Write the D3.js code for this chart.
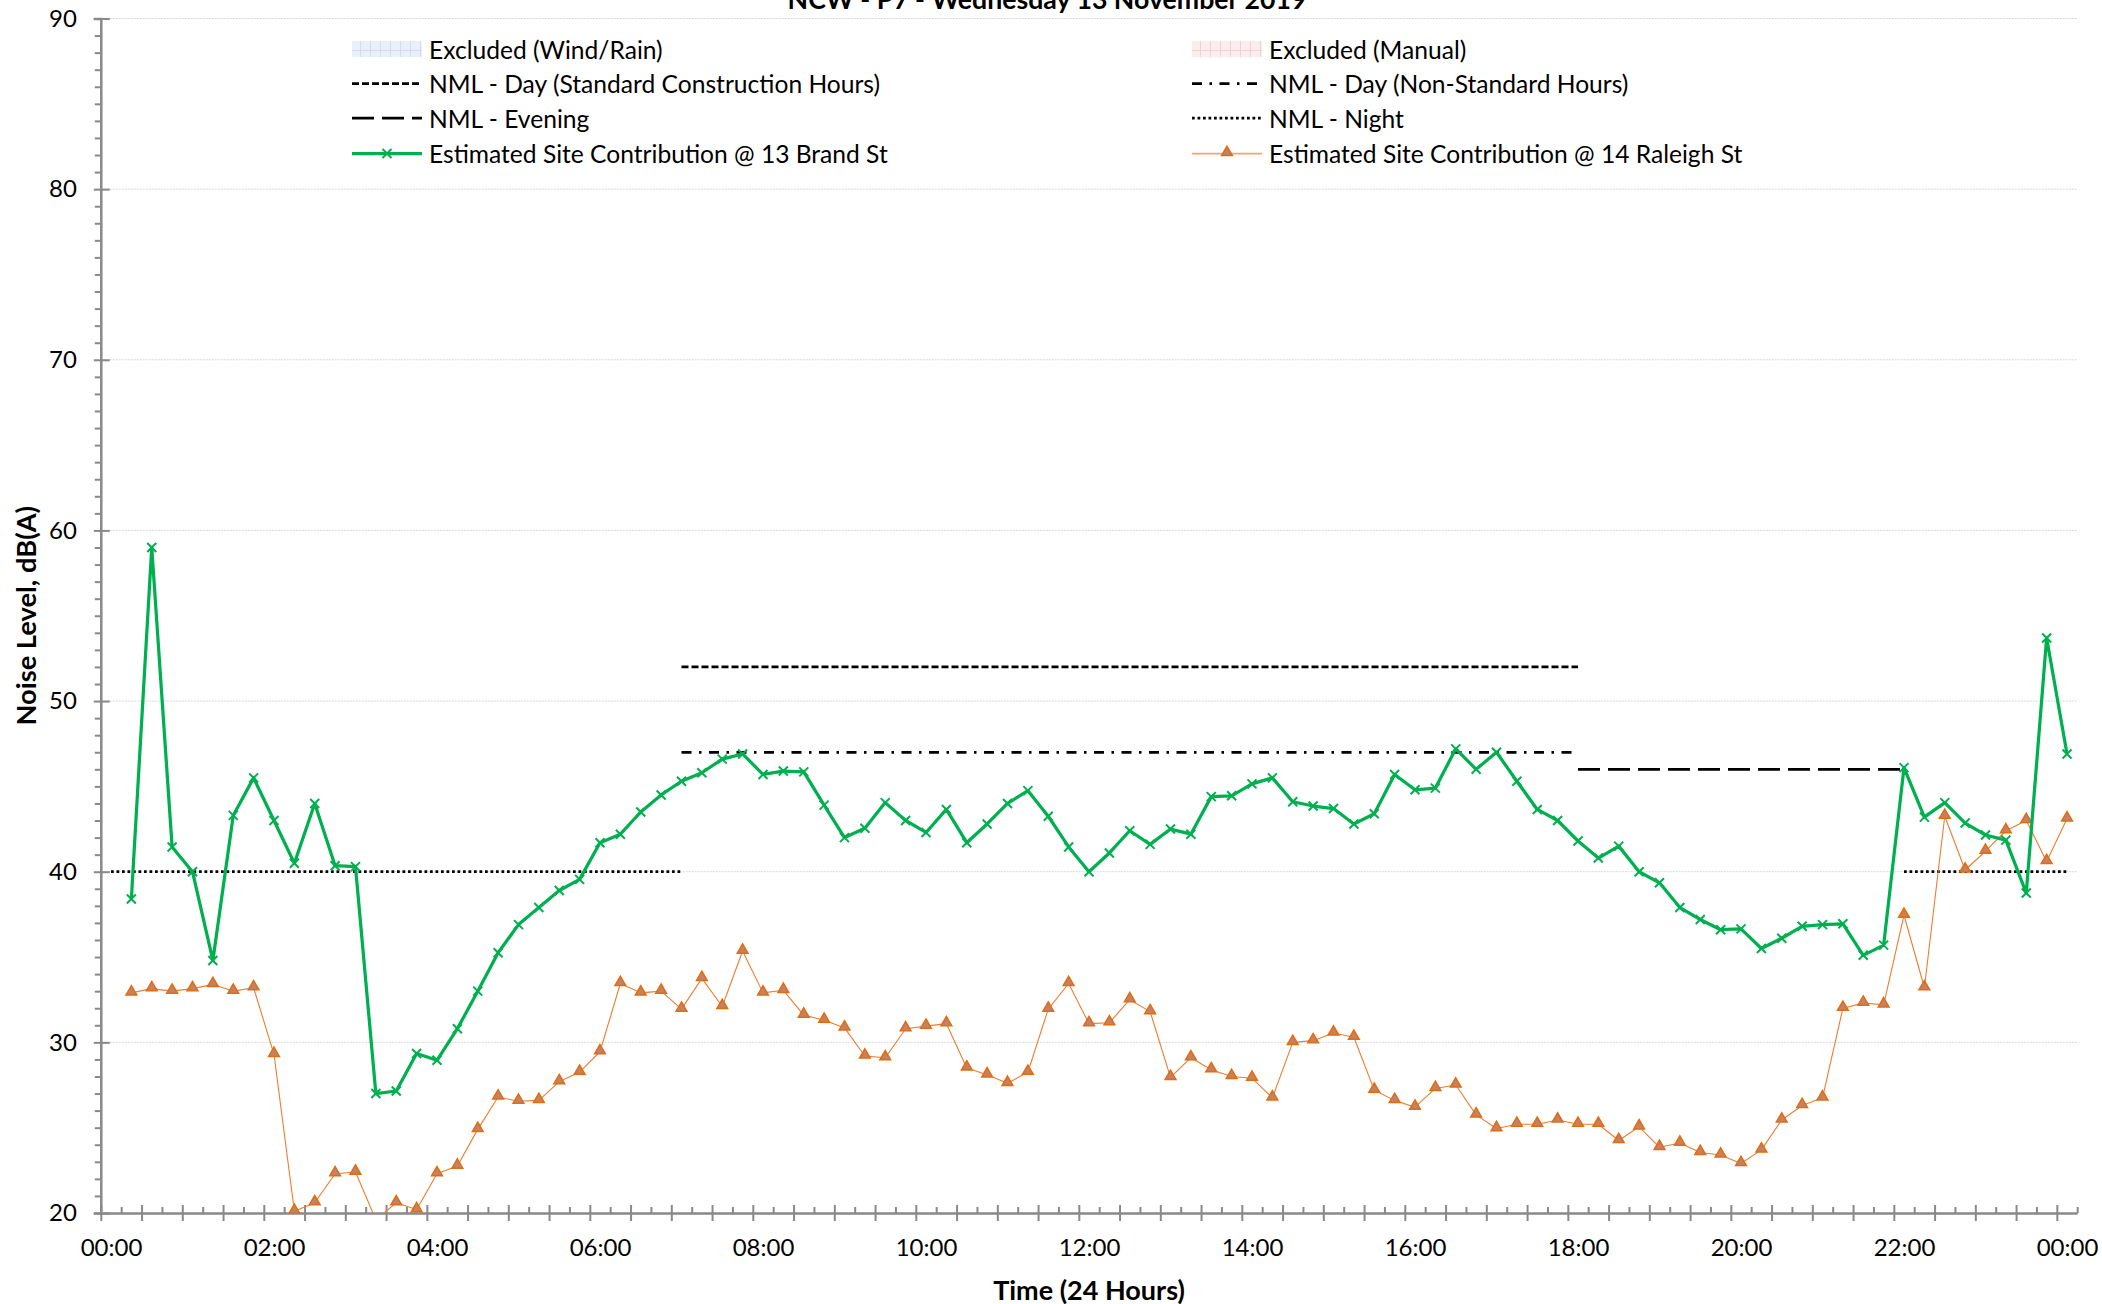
<!DOCTYPE html>
<html><head><meta charset="utf-8">
<script src="https://cdn.jsdelivr.net/npm/d3@7"></script>
<style>
html,body{margin:0;padding:0;background:#fff;overflow:hidden}
svg{display:block;font-family:Lato,"Open Sans",sans-serif}
</style></head><body>
<svg id="chart" width="2102" height="1304"></svg>
<script>
// ---------------- data ----------------
const chartTitle = "NCW - P7 - Wednesday 13 November 2019";
const xAxisTitle = "Time (24 Hours)";
const yAxisTitle = "Noise Level, dB(A)";

const timeCategories = [
 "00:15","00:30","00:45","01:00","01:15","01:30","01:45","02:00",
 "02:15","02:30","02:45","03:00","03:15","03:30","03:45","04:00",
 "04:15","04:30","04:45","05:00","05:15","05:30","05:45","06:00",
 "06:15","06:30","06:45","07:00","07:15","07:30","07:45","08:00",
 "08:15","08:30","08:45","09:00","09:15","09:30","09:45","10:00",
 "10:15","10:30","10:45","11:00","11:15","11:30","11:45","12:00",
 "12:15","12:30","12:45","13:00","13:15","13:30","13:45","14:00",
 "14:15","14:30","14:45","15:00","15:15","15:30","15:45","16:00",
 "16:15","16:30","16:45","17:00","17:15","17:30","17:45","18:00",
 "18:15","18:30","18:45","19:00","19:15","19:30","19:45","20:00",
 "20:15","20:30","20:45","21:00","21:15","21:30","21:45","22:00",
 "22:15","22:30","22:45","23:00","23:15","23:30","23:45","24:00"];

const brandSt = [
 38.4,59.0,41.45,40.0, 34.8,43.3,45.5,43.0, 40.5,44.0,40.35,40.3,
 27.0,27.15,29.35,28.95, 30.8,33.0,35.25,36.9, 37.9,38.9,39.55,41.7,
 42.2,43.5,44.5,45.3, 45.8,46.6,46.9,45.7, 45.9,45.85,43.9,42.0,
 42.55,44.05,43.0,42.3, 43.65,41.7,42.8,44.0, 44.75,43.25,41.45,40.0,
 41.1,42.4,41.6,42.5, 42.2,44.4,44.45,45.15, 45.5,44.1,43.85,43.7,
 42.8,43.4,45.7,44.8, 44.9,47.2,46.0,47.0, 45.3,43.65,43.0,41.8,
 40.8,41.5,40.0,39.35, 37.9,37.2,36.6,36.65, 35.5,36.1,36.8,36.9,
 36.95,35.1,35.7,46.1, 43.2,44.05,42.85,42.15, 41.85,38.75,53.7,46.9];

const raleighSt = [
 32.9,33.15,33.0,33.15, 33.4,33.0,33.2,29.3, 20.1,20.6,22.3,22.4,
 19.6,20.6,20.2,22.3, 22.75,24.9,26.8,26.55, 26.6,27.7,28.25,29.45,
 33.45,32.9,33.0,31.95, 33.75,32.1,35.35,32.9, 33.05,31.6,31.3,30.85,
 29.2,29.1,30.8,30.95, 31.1,28.5,28.1,27.6, 28.25,31.95,33.45,31.1,
 31.15,32.5,31.8,27.95, 29.1,28.4,28.0,27.9, 26.75,30.0,30.1,30.55,
 30.3,27.2,26.6,26.2, 27.3,27.5,25.75,24.95, 25.2,25.2,25.45,25.2,
 25.2,24.25,25.05,23.85, 24.1,23.55,23.4,22.9, 23.7,25.45,26.3,26.75,
 32.0,32.3,32.2,37.45, 33.2,43.25,40.1,41.2, 42.4,43.0,40.6,43.1];

const nmlDayStandard    = [["07:00",52],["18:00",52]];
const nmlDayNonStandard = [["07:00",47],["18:00",47]];
const nmlEvening        = [["18:00",46],["22:00",46]];
const nmlNightMorning   = [["00:00",40],["07:00",40]];
const nmlNightLate      = [["22:00",40],["24:00",40]];

const xTickLabels = ["00:00","02:00","04:00","06:00","08:00","10:00","12:00",
                     "14:00","16:00","18:00","20:00","22:00","00:00"];
const xTickTimes  = ["00:00","02:00","04:00","06:00","08:00","10:00","12:00",
                     "14:00","16:00","18:00","20:00","22:00","24:00"];
const yTickValues = [20,30,40,50,60,70,80,90];

const legendLeft  = ["Excluded (Wind/Rain)","NML - Day (Standard Construction Hours)",
                     "NML - Evening","Estimated Site Contribution @ 13 Brand St"];
const legendRight = ["Excluded (Manual)","NML - Day (Non-Standard Hours)",
                     "NML - Night","Estimated Site Contribution @ 14 Raleigh St"];

// ---------------- helpers ----------------
const toH = s => { const [h,m] = s.split(":").map(Number); return h + m/60; };
const slot = 0.25; // category width (hours)

const svg = d3.select("#chart");
const L = 100.8, R = 2077.2, T = 18.5, B = 1213;
const x = d3.scaleLinear().domain([-slot/2, 24 + slot/2]).range([L, R]);
const y = d3.scaleLinear().domain([20, 90]).range([B, T]);

const AX = "#898989";
const GREEN = "#00B050", ORANGE = "#ED7D31";

// defs
const defs = svg.append("defs");
defs.append("clipPath").attr("id","plotClip")
  .append("rect").attr("x",L).attr("y",T-1).attr("width",R-L).attr("height",B-T+1);
function gridPattern(id, bg, ln){
  const p = defs.append("pattern").attr("id",id).attr("patternUnits","userSpaceOnUse")
    .attr("width",10).attr("height",10);
  p.append("rect").attr("width",10).attr("height",10).attr("fill",bg);
  p.append("path").attr("d","M0,0.5H10M0.5,0V10").attr("stroke",ln).attr("stroke-width",1);
}
gridPattern("patBlue","#eaf0fa","#d3ddf0");
gridPattern("patPink","#fbeded","#f1d2d2");

// gridlines
svg.append("g").selectAll("line").data(yTickValues.filter(v=>v>20)).join("line")
  .attr("x1",L).attr("x2",R).attr("y1",d=>y(d)).attr("y2",d=>y(d))
  .attr("stroke","#d9d9d9").attr("stroke-width",1).attr("stroke-dasharray","2,1");

// ---------------- axes ----------------
const yMinor = d3.range(20, 91, 1).filter(v => v % 10 !== 0);
svg.append("g").attr("transform",`translate(${L},0)`)
  .call(d3.axisLeft(y).tickValues(yMinor).tickSize(6).tickFormat(""))
  .call(g=>{g.select(".domain").remove(); g.selectAll("line").attr("stroke",AX).attr("stroke-width",2);});
svg.append("g").attr("transform",`translate(${L},0)`)
  .call(d3.axisLeft(y).tickValues(yTickValues).tickSize(7).tickPadding(17).tickFormat(d3.format("d")))
  .call(g=>{
    g.select(".domain").attr("stroke",AX).attr("stroke-width",2.5);
    g.selectAll(".tick line").attr("x1",9).attr("x2",-7).attr("stroke",AX).attr("stroke-width",2);
    g.selectAll(".tick text").attr("font-size",24).attr("fill","#000").attr("font-family","Lato");
  });

const xMajor = d3.range(0, 49).map(k => -slot/2 + 2*slot*k);
const xMinorT = d3.range(0, 49).map(k => -slot/2 + slot + 2*slot*k);
svg.append("g").attr("transform",`translate(0,${B})`)
  .call(d3.axisBottom(x).tickValues(xMinorT).tickSize(-6).tickFormat(""))
  .call(g=>{g.select(".domain").remove(); g.selectAll("line").attr("stroke",AX).attr("stroke-width",2);});
svg.append("g").attr("transform",`translate(0,${B})`)
  .call(d3.axisBottom(x).tickValues(xMajor).tickSize(8).tickSizeOuter(0).tickFormat(""))
  .call(g=>{
    g.select(".domain").attr("stroke",AX).attr("stroke-width",2.5);
    g.selectAll(".tick line").attr("y1",-8).attr("y2",8).attr("stroke",AX).attr("stroke-width",2);
  });
svg.append("g").attr("transform",`translate(0,${B})`)
  .call(d3.axisBottom(x).tickValues(xTickTimes.map(toH)).tickSize(0).tickPadding(26)
        .tickFormat((d,i)=>xTickLabels[i]))
  .call(g=>{
    g.select(".domain").remove();
    g.selectAll(".tick text").attr("font-size",24).attr("fill","#000").attr("font-family","Lato");
  });

// ---------------- NML lines ----------------
const seg = d3.line().x(d=>x(toH(d[0]))).y(d=>y(d[1]));
const plot = svg.append("g").attr("clip-path","url(#plotClip)");
const nmlStyles = [
  [nmlDayStandard,"7,3"],
  [nmlDayNonStandard,"10,7.5,2.5,7.5"],
  [nmlEvening,"22,8"],
  [nmlNightMorning,"2.75,2.75"],
  [nmlNightLate,"2.75,2.75"]];
nmlStyles.forEach(([d,dash])=>{
  plot.append("path").attr("d",seg(d)).attr("fill","none").attr("stroke","#000")
    .attr("stroke-width",2.75).attr("stroke-dasharray",dash);
});

// ---------------- series ----------------
const line = d3.line().x(d=>x(toH(d.t))).y(d=>y(d.v));
const greenData = timeCategories.map((t,i)=>({t, v: brandSt[i]}));
const orangeData = timeCategories.map((t,i)=>({t, v: raleighSt[i]}));

plot.append("path").attr("d",line(orangeData)).attr("fill","none")
  .attr("stroke",ORANGE).attr("stroke-width",1.1).attr("stroke-linejoin","round");
const tri = d3.symbol(d3.symbolTriangle, 50)();
plot.append("g").selectAll("path").data(orangeData.filter(d=>d.v>=20)).join("path")
  .attr("d",tri).attr("transform",d=>`translate(${x(toH(d.t))},${y(d.v)-1})`)
  .attr("fill","#c0826c").attr("stroke","#E46C0A").attr("stroke-width",1.5);

plot.append("path").attr("d",line(greenData)).attr("fill","none")
  .attr("stroke",GREEN).attr("stroke-width",3.25).attr("stroke-linejoin","round");
const xMark = "M-4.5,-4.5L4.5,4.5M-4.5,4.5L4.5,-4.5";
plot.append("g").selectAll("path").data(greenData).join("path")
  .attr("d",xMark).attr("transform",d=>`translate(${x(toH(d.t))},${y(d.v)})`)
  .attr("fill","none").attr("stroke",GREEN).attr("stroke-width",2);

// ---------------- titles ----------------
svg.append("text").attr("x",1047).attr("y",8.5).attr("text-anchor","middle")
  .attr("font-weight","bold").attr("font-size",26.7).text(chartTitle);
svg.append("text").attr("transform",`translate(25,${(T+B)/2}) rotate(-90)`)
  .attr("text-anchor","middle").attr("dominant-baseline","central")
  .attr("font-weight","bold").attr("font-size",27.3).text(yAxisTitle);
svg.append("text").attr("x",(L+R)/2).attr("y",1289).attr("text-anchor","middle")
  .attr("dominant-baseline","central")
  .attr("font-weight","bold").attr("font-size",27).text(xAxisTitle);

// ---------------- legend ----------------
const rowsY = [49, 83.5, 118, 153.5];
function legendCol(x0, labels, kinds){
  const g = svg.append("g");
  labels.forEach((lab,i)=>{
    const yy = rowsY[i], k = kinds[i];
    if (k.pattern){
      g.append("rect").attr("x",x0).attr("y",yy-8).attr("width",70).attr("height",16)
        .attr("fill",`url(#${k.pattern})`);
    } else {
      g.append("line").attr("x1",x0).attr("x2",x0+70).attr("y1",yy).attr("y2",yy)
        .attr("stroke",k.color).attr("stroke-width",k.w).attr("stroke-dasharray",k.dash||null);
      if (k.marker==="x"){
        g.append("path").attr("d",xMark).attr("transform",`translate(${x0+35},${yy})`)
          .attr("stroke",GREEN).attr("stroke-width",2).attr("fill","none");
      } else if (k.marker==="tri"){
        g.append("path").attr("d",tri).attr("transform",`translate(${x0+35},${yy-1})`)
          .attr("fill","#c0826c").attr("stroke","#E46C0A").attr("stroke-width",1.5);
      }
    }
    g.append("text").attr("x",x0+77).attr("y",yy).attr("dominant-baseline","central")
      .attr("font-size",24.6).attr("fill","#000").text(lab);
  });
}
legendCol(352, legendLeft, [
  {pattern:"patBlue"},
  {color:"#000",w:2.75,dash:"7,3"},
  {color:"#000",w:2.75,dash:"22,8"},
  {color:GREEN,w:3.25,marker:"x"}]);
legendCol(1192, legendRight, [
  {pattern:"patPink"},
  {color:"#000",w:2.75,dash:"10,7.5,2.5,7.5"},
  {color:"#000",w:2.75,dash:"2.75,2.75"},
  {color:"#F4A46C",w:1.75,marker:"tri"}]);
</script>
</body></html>
